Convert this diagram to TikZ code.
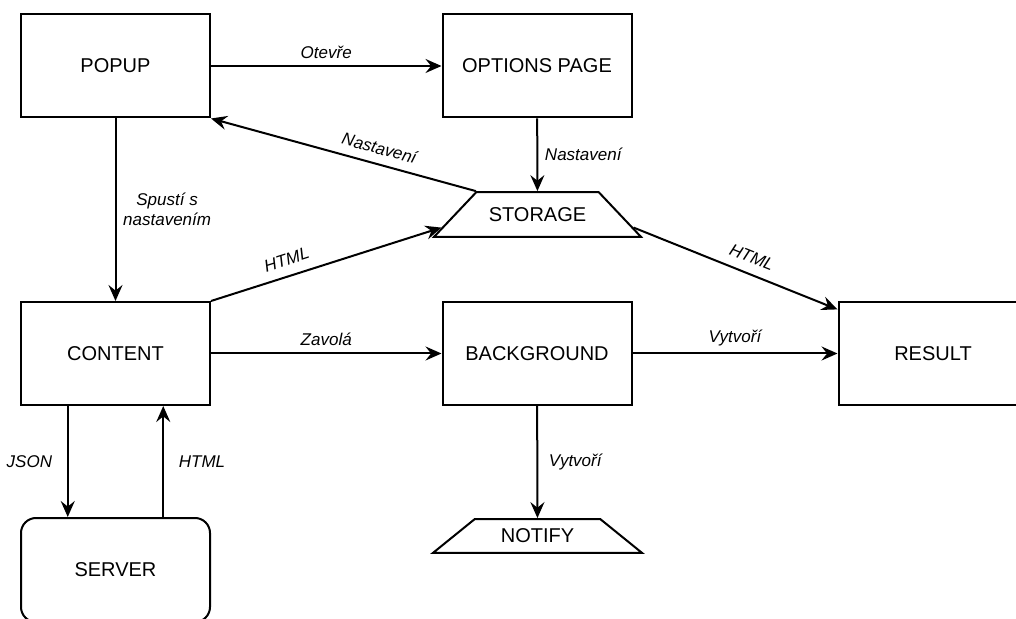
\documentclass[tikz,border=0pt]{standalone}
\usepackage{fontspec}
\setmainfont{Liberation Sans}
\usetikzlibrary{arrows.meta}
\usetikzlibrary{calc}
\usetikzlibrary{shapes.geometric}

\begin{document}
\begin{tikzpicture}[->,>={Stealth[length=8pt,width=7pt,inset=2.8pt]},x=0.5pt,y=-0.5pt,line width=1pt,
	main node/.style={draw,rectangle,minimum width=94.5pt,minimum height=51.5pt,font=\fontsize{10}{12}\selectfont},
	store node/.style={draw,trapezium,trapezium stretches body,font=\fontsize{10}{12}\selectfont}]
	\useasboundingbox (0,0) rectangle (1016,619);
	
	\node[main node] (popup) at (115.5,66) {POPUP};
	\node[main node] (options) at (537,66) {OPTIONS PAGE};
	\node[store node,trapezium angle=46.6,minimum width=103.5pt,inner ysep=7.65pt] (storage) at (537.5,214.5) {STORAGE};
	\node[main node] (content) at (115.5,353.5) {CONTENT};
	\node[main node] (background) at (537,353.5) {BACKGROUND};
	\node[main node] (result) at (933,353.5) {RESULT};
	\node[main node,rounded corners=7.5pt,minimum height=52pt] (server) at (115.5,570) {SERVER};
	\node[store node,trapezium angle=39,minimum width=104.5pt,inner ysep=4.9pt] (notify) at (537.5,536) {NOTIFY};
	
	\path[every node/.style={font=\fontsize{8.5}{10}\selectfont\itshape}]
	(popup) edge node [above] {Otevře} (options)
	(popup) edge node [right,align=center] {Spustí s\\nastavením} (content)
	(options) edge node [right] {Nastavení} (storage)
	(storage.top left corner) edge node [pos=0.38,sloped,above=1pt] {Nastavení} (popup.south east)
	(content.north east) edge node [pos=0.35,sloped,above=1.5pt] {HTML} ($(storage.top left corner)!0.78!(storage.bottom left corner)$)
	($(storage.top right corner)!0.78!(storage.bottom right corner)$) edge node [pos=0.55,sloped,above=1.5pt] {HTML} ($(result.north west)!0.08!(result.south west)$)
	(content) edge node [above] {Zavolá} (background)
	(background) edge node [above] {Vytvoří} (result)
	(background) edge node [right=2pt] {Vytvoří} (notify)
	($(content.south west)!0.25!(content.south east)$) edge node [left=4pt] {JSON} ($(server.north west)!0.25!(server.north east)$)
	($(server.north west)!0.75!(server.north east)$) edge node [right=4pt] {HTML} ($(content.south west)!0.75!(content.south east)$)
	;
\end{tikzpicture}
\end{document}
